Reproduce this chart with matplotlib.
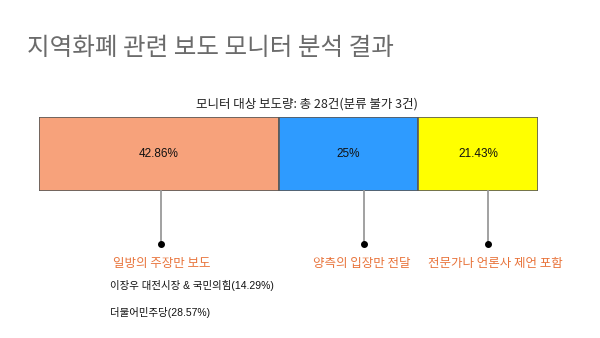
import matplotlib
matplotlib.use("Agg")
import matplotlib.pyplot as plt

plt.rcParams['font.family'] = ['Noto Sans CJK KR', 'DejaVu Sans']

# --- data ---
categories = ["일방의 주장만 보도", "양측의 입장만 전달", "전문가나 언론사 제언 포함"]
shares = [42.86, 25, 21.43]
value_labels = ["42.86%", "25%", "21.43%"]
colors = ["#F7A27B", "#2E9BFF", "#FFFF00"]
sub_notes = ["이장우 대전시장 & 국민의힘(14.29%)", "더불어민주당(28.57%)"]
title = "지역화폐 관련 보도 모니터 분석 결과"
subtitle = "모니터 대상 보도량: 총 28건(분류 불가 3건)"

# where each leader line leaves its segment (fraction of segment width)
leader_pos = [0.51, 0.61, 0.58]
# horizontal nudge of the category captions, in pixels
caption_dx = [1, -2, 8]

W, H = 600, 338
fig = plt.figure(figsize=(W / 100, H / 100), dpi=100)
fig.patch.set_facecolor("white")

# bar axes spans the stacked bar only
bx0, bx1, by0, by1 = 39, 538, 117, 191
ax = fig.add_axes([bx0 / W, 1 - by1 / H, (bx1 - bx0) / W, (by1 - by0) / H])
ax.set_xlim(0, sum(shares))
ax.set_ylim(0, 1)
ax.axis("off")

left = 0
px_per_y = by1 - by0
px_per_x = (bx1 - bx0) / sum(shares)
for share, lab, col, frac, cat, dx in zip(shares, value_labels, colors, leader_pos,
                                          categories, caption_dx):
    ax.barh(0.5, share, height=1, left=left, color=col, edgecolor="#5a5a5a", linewidth=1.2)
    ax.text(left + share / 2, 0.5, lab, ha="center", va="center", fontsize=8.5,
            family=["Liberation Sans", "Noto Sans CJK KR"], color="#111111")
    lx = left + share * frac
    y_dot = -(244 - by1) / px_per_y
    ax.plot([lx, lx], [0, y_dot], color="#9a9a9a", lw=1.3, clip_on=False, zorder=1)
    ax.plot([lx], [y_dot], "o", color="black", ms=4, clip_on=False, zorder=2)
    ax.text(lx + dx / px_per_x, -(264 - by1) / px_per_y, cat, ha="center", va="center",
            fontsize=9, color="#E8733A", clip_on=False)
    left += share

fig.text(27 / W, 1 - 48 / H, title, ha="left", va="center", fontsize=17.7,
         color="#6b6b6b", weight="medium")
fig.text(307 / W, 1 - 104 / H, subtitle, ha="center", va="center", fontsize=9, color="#222222")

for note, y in zip(sub_notes, [285, 312]):
    fig.text(110 / W, 1 - y / H, note, ha="left", va="center", fontsize=7.5,
             family=["Liberation Sans", "Noto Sans CJK KR"], color="#111111")

fig.savefig("out.png", dpi=100, facecolor="white")
